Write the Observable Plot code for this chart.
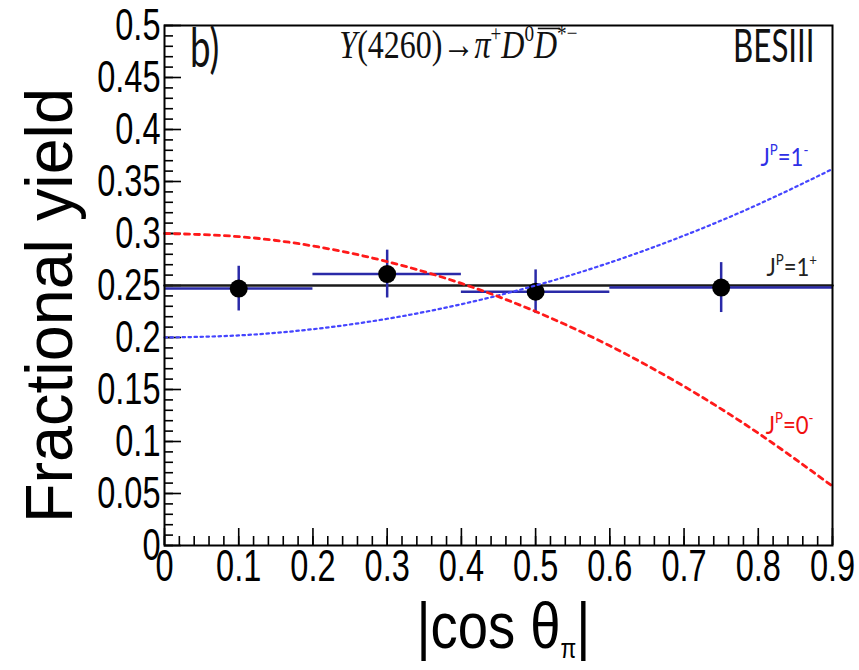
<!DOCTYPE html>
<html><head><meta charset="utf-8">
<script src="https://cdn.jsdelivr.net/npm/d3@7"></script>
<script src="https://cdn.jsdelivr.net/npm/@observablehq/plot@0.6"></script>
<style>body{margin:0;background:#fff}</style>
</head><body><div id="chart"></div>
<script>
// ---- data ----
const binCenters = [0.1, 0.3, 0.5, 0.75];
const binLow     = [0.0, 0.2, 0.4, 0.6];
const binHigh    = [0.2, 0.4, 0.6, 0.9];
const yieldValues = [0.247, 0.261, 0.244, 0.248];
const yieldErrors = [0.0215, 0.023, 0.021, 0.024];

const curveX    = [0, 0.1, 0.2, 0.3, 0.4, 0.5, 0.6, 0.7, 0.8, 0.9];
const curveJP0m = [0.300, 0.297, 0.288, 0.273, 0.252, 0.225, 0.192, 0.153, 0.108, 0.057];
const curveJP1m = [0.200, 0.202, 0.208, 0.218, 0.232, 0.250, 0.272, 0.298, 0.328, 0.362];
const curveJP1p = [0.250, 0.250, 0.250, 0.250, 0.250, 0.250, 0.250, 0.250, 0.250, 0.250];

const xTicks = [0, 0.1, 0.2, 0.3, 0.4, 0.5, 0.6, 0.7, 0.8, 0.9];
const yTicks = [0, 0.05, 0.1, 0.15, 0.2, 0.25, 0.3, 0.35, 0.4, 0.45, 0.5];
const xMinorTicks = d3.range(0, 0.9001, 0.02).map(v => +v.toFixed(2));
const yMinorTicks = d3.range(0, 0.5001, 0.01).map(v => +v.toFixed(2));

const xTitleParts = [{t: "|cos θ"}, {t: "π", sub: 1}, {t: "|"}];
const yTitle = "Fractional yield";
const formulaParts = [
  {t: "Y", i: 1}, {t: "(4260)"}, {t: "→"}, {t: "π", i: 1}, {t: "+", sup: 1},
  {t: "D", i: 1}, {t: "0", sup: 1}, {t: "D", i: 1, over: 1}, {t: "*−", sup: 1}
];
const curveLabels = [
  {key: "1m", parts: [{t: "J"}, {t: "P", sup: 1}, {t: "=1"}, {t: "-", sup: 1}], x: 0.803, y: 0.373, color: "#2f2fe6"},
  {key: "1p", parts: [{t: "J"}, {t: "P", sup: 1}, {t: "=1"}, {t: "+", sup: 1}], x: 0.811, y: 0.267, color: "#222"},
  {key: "0m", parts: [{t: "J"}, {t: "P", sup: 1}, {t: "=0"}, {t: "-", sup: 1}], x: 0.810, y: 0.115, color: "#f01010"}
];
const cornerLabels = [
  {text: "b)", x: 0.054, y: 0.477, size: 54},
  {text: "BESIII", x: 0.821, y: 0.479, size: 46}
];

// ---- tables built from the arrays ----
const points = binCenters.map((c, i) => ({x: c, lo: binLow[i], hi: binHigh[i], y: yieldValues[i], e: yieldErrors[i]}));
const curve = (ys) => curveX.map((x, i) => ({x, y: ys[i]}));

const fmt = d => String(+d.toFixed(2));

const plot = Plot.plot({
  width: 859, height: 670,
  marginLeft: 164, marginRight: 27, marginTop: 25, marginBottom: 125,
  x: {domain: [0, 0.9], axis: null},
  y: {domain: [0, 0.5], axis: null},
  style: {background: "white", fontFamily: "'Liberation Sans', Arial, sans-serif", color: "black"},
  marks: [
    // inward ticks (ROOT style)
    Plot.axisY(yMinorTicks, {anchor: "left", tickSize: -9, text: null, strokeWidth: 1.6, label: null}),
    Plot.axisY(yTicks, {anchor: "left", tickSize: -17, text: null, strokeWidth: 1.6, label: null}),
    Plot.axisX(xMinorTicks, {anchor: "bottom", tickSize: -9, text: null, strokeWidth: 1.6, label: null}),
    Plot.axisX(xTicks, {anchor: "bottom", tickSize: -17, text: null, strokeWidth: 1.6, label: null}),
    // tick labels
    Plot.axisY(yTicks, {anchor: "left", tickSize: 0, tickPadding: 4, tickFormat: fmt, fontSize: 44, label: null, className: "ylab"}),
    Plot.axisX(xTicks, {anchor: "bottom", tickSize: 0, tickPadding: 4, tickFormat: fmt, fontSize: 44, label: null, className: "xlab"}),
    // JP = 1+ flat line
    Plot.line(curve(curveJP1p), {x: "x", y: "y", stroke: "#1a1a1a", strokeWidth: 2.5}),
    // error bars
    Plot.ruleY(points, {y: "y", x1: "lo", x2: "hi", stroke: "#2a2aa8", strokeWidth: 2.5}),
    Plot.ruleX(points, {x: "x", y1: d => d.y - d.e, y2: d => d.y + d.e, stroke: "#2a2aa8", strokeWidth: 2.5}),
    Plot.dot(points, {x: "x", y: "y", r: 9, fill: "black", stroke: "none"}),
    // model curves
    Plot.line(curve(curveJP1m), {x: "x", y: "y", curve: "natural", stroke: "#4545ff", strokeWidth: 2.2, strokeDasharray: "2.5,3.5"}),
    Plot.line(curve(curveJP0m), {x: "x", y: "y", curve: "natural", stroke: "#ff1a1a", strokeWidth: 2.8, strokeDasharray: "5,5"}),
    Plot.frame({stroke: "black", strokeWidth: 2}),
    // annotations
    Plot.text(curveLabels, {x: "x", y: "y", text: "key", fill: "color", textAnchor: "start", fontSize: 26, fontFamily: "Lato", className: "jp"}),
    Plot.text(cornerLabels, {x: "x", y: "y", text: "text", textAnchor: "middle", fontSize: "size", fontFamily: "Lato", fill: "#111", className: "corner"}),
    Plot.text(["formula"], {x: 0.396, y: 0.481, text: d => d, fontSize: 40, fontFamily: "'Liberation Serif', 'DejaVu Serif', serif", fill: "#111", className: "formula"}),
    Plot.text([yTitle], {frameAnchor: "left", textAnchor: "middle", lineAnchor: "middle", rotate: -90, dx: -114, dy: 20, text: d => d, fontSize: 66, className: "ytitle"}),
    Plot.text(["xtitle"], {frameAnchor: "bottom", textAnchor: "middle", lineAnchor: "middle", dx: 5, dy: 82, text: d => d, fontSize: 64, className: "xtitle"})
  ]
});

document.getElementById("chart").appendChild(plot);
const svg = d3.select(plot);

function fillRich(textEl, parts, size, subScale = 0.6, subShift = 0.22) {
  const t = d3.select(textEl);
  t.text(null);
  let shift = 0;
  for (const p of parts) {
    const ts = t.append("tspan").text(p.t);
    const target = p.sup ? -size * 0.42 : p.sub ? size * subShift : 0;
    if (target !== shift) { ts.attr("dy", target - shift); shift = target; }
    if (p.sup) ts.attr("font-size", size * 0.6);
    if (p.sub) ts.attr("font-size", size * subScale);
    if (p.i) ts.attr("font-style", "italic");
    if (p.over) ts.classed("over", true);
  }
}
function squeeze(sel, sx) {
  sel.each(function() {
    const tr = this.getAttribute("transform") || "";
    this.setAttribute("transform", tr + ` scale(${sx},1)`);
  });
}

svg.selectAll(".jp text").each(function(i) { fillRich(this, curveLabels[i].parts, 26); });
svg.selectAll(".formula text").each(function() { fillRich(this, formulaParts, 40); });
svg.selectAll(".xtitle text").each(function() { fillRich(this, xTitleParts, 64, 0.42, 0.16); });

squeeze(svg.selectAll(".ylab text"), 0.74);
squeeze(svg.selectAll(".xlab text"), 0.74);
squeeze(svg.selectAll(".jp text"), 0.85);
squeeze(svg.selectAll(".corner text"), 0.68);
squeeze(svg.selectAll(".formula text"), 0.8);
squeeze(svg.selectAll(".ytitle text"), 0.98);
squeeze(svg.selectAll(".xtitle text"), 0.85);

// overline (bar) on the anti-D, placed from the glyph's own metrics
svg.selectAll(".formula text").each(function() {
  const textEl = this;
  d3.select(textEl).selectAll("tspan.over").each(function() {
    const s = this.getStartPositionOfChar(0);
    const e = this.getEndPositionOfChar(this.getNumberOfChars() - 1);
    const size = 40;
    d3.select(textEl.parentNode).append("line")
      .attr("transform", textEl.getAttribute("transform"))
      .attr("x1", s.x + size * 0.12).attr("x2", e.x + size * 0.1)
      .attr("y1", s.y - size * 0.74).attr("y2", s.y - size * 0.74)
      .attr("stroke", "#111").attr("stroke-width", 1.6);
  });
});
</script>
</body></html>
